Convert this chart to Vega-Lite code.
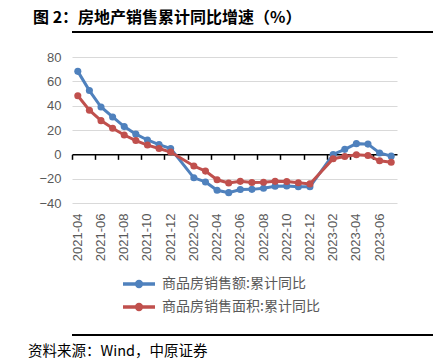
{
  "$schema": "https://vega.github.io/schema/vega-lite/v6.json",
  "padding": {"left": 20, "top": 10, "right": 10, "bottom": 0},
  "background": "white",
  "config": {"view": {"stroke": null}, "font": "Noto Sans CJK SC"},
  "spacing": 18,
  "vconcat": [
    {
      "width": 403,
      "height": 2,
      "view": {"fill": "#000000", "stroke": null},
      "title": {"text": "图 2：房地产销售累计同比增速（%）", "anchor": "start", "fontSize": 16, "fontWeight": "bold", "font": "Noto Sans CJK SC", "color": "#000000", "dx": -39, "offset": 5},
      "data": {"values": []},
      "mark": "point"
    },
    {
      "width": 325,
      "height": 146,
      "data": {"values": [
        {"month": "2021-04", "series": "商品房销售额:累计同比", "value": 68.2},
        {"month": "2021-05", "series": "商品房销售额:累计同比", "value": 52.4},
        {"month": "2021-06", "series": "商品房销售额:累计同比", "value": 38.9},
        {"month": "2021-07", "series": "商品房销售额:累计同比", "value": 30.7},
        {"month": "2021-08", "series": "商品房销售额:累计同比", "value": 22.8},
        {"month": "2021-09", "series": "商品房销售额:累计同比", "value": 16.6},
        {"month": "2021-10", "series": "商品房销售额:累计同比", "value": 11.8},
        {"month": "2021-11", "series": "商品房销售额:累计同比", "value": 8.0},
        {"month": "2021-12", "series": "商品房销售额:累计同比", "value": 4.8},
        {"month": "2022-02", "series": "商品房销售额:累计同比", "value": -19.3},
        {"month": "2022-03", "series": "商品房销售额:累计同比", "value": -22.7},
        {"month": "2022-04", "series": "商品房销售额:累计同比", "value": -29.5},
        {"month": "2022-05", "series": "商品房销售额:累计同比", "value": -31.5},
        {"month": "2022-06", "series": "商品房销售额:累计同比", "value": -28.9},
        {"month": "2022-07", "series": "商品房销售额:累计同比", "value": -28.8},
        {"month": "2022-08", "series": "商品房销售额:累计同比", "value": -27.9},
        {"month": "2022-09", "series": "商品房销售额:累计同比", "value": -26.3},
        {"month": "2022-10", "series": "商品房销售额:累计同比", "value": -26.1},
        {"month": "2022-11", "series": "商品房销售额:累计同比", "value": -26.6},
        {"month": "2022-12", "series": "商品房销售额:累计同比", "value": -26.7},
        {"month": "2023-02", "series": "商品房销售额:累计同比", "value": -0.1},
        {"month": "2023-03", "series": "商品房销售额:累计同比", "value": 4.1},
        {"month": "2023-04", "series": "商品房销售额:累计同比", "value": 8.8},
        {"month": "2023-05", "series": "商品房销售额:累计同比", "value": 8.4},
        {"month": "2023-06", "series": "商品房销售额:累计同比", "value": 1.1},
        {"month": "2023-07", "series": "商品房销售额:累计同比", "value": -1.5},
        {"month": "2021-04", "series": "商品房销售面积:累计同比", "value": 48.1},
        {"month": "2021-05", "series": "商品房销售面积:累计同比", "value": 36.3},
        {"month": "2021-06", "series": "商品房销售面积:累计同比", "value": 27.7},
        {"month": "2021-07", "series": "商品房销售面积:累计同比", "value": 21.5},
        {"month": "2021-08", "series": "商品房销售面积:累计同比", "value": 15.9},
        {"month": "2021-09", "series": "商品房销售面积:累计同比", "value": 11.3},
        {"month": "2021-10", "series": "商品房销售面积:累计同比", "value": 7.6},
        {"month": "2021-11", "series": "商品房销售面积:累计同比", "value": 4.8},
        {"month": "2021-12", "series": "商品房销售面积:累计同比", "value": 1.9},
        {"month": "2022-02", "series": "商品房销售面积:累计同比", "value": -9.6},
        {"month": "2022-03", "series": "商品房销售面积:累计同比", "value": -13.8},
        {"month": "2022-04", "series": "商品房销售面积:累计同比", "value": -20.9},
        {"month": "2022-05", "series": "商品房销售面积:累计同比", "value": -23.6},
        {"month": "2022-06", "series": "商品房销售面积:累计同比", "value": -22.2},
        {"month": "2022-07", "series": "商品房销售面积:累计同比", "value": -23.1},
        {"month": "2022-08", "series": "商品房销售面积:累计同比", "value": -23.0},
        {"month": "2022-09", "series": "商品房销售面积:累计同比", "value": -22.2},
        {"month": "2022-10", "series": "商品房销售面积:累计同比", "value": -22.3},
        {"month": "2022-11", "series": "商品房销售面积:累计同比", "value": -23.3},
        {"month": "2022-12", "series": "商品房销售面积:累计同比", "value": -24.3},
        {"month": "2023-02", "series": "商品房销售面积:累计同比", "value": -3.6},
        {"month": "2023-03", "series": "商品房销售面积:累计同比", "value": -1.8},
        {"month": "2023-04", "series": "商品房销售面积:累计同比", "value": -0.4},
        {"month": "2023-05", "series": "商品房销售面积:累计同比", "value": -0.9},
        {"month": "2023-06", "series": "商品房销售面积:累计同比", "value": -5.3},
        {"month": "2023-07", "series": "商品房销售面积:累计同比", "value": -6.5}
      ]},
      "encoding": {
        "y": {
          "field": "value", "type": "quantitative",
          "scale": {"domain": [-40, 80], "nice": false, "zero": false},
          "axis": {
            "values": [-40, -20, 0, 20, 40, 60, 80],
            "domain": false, "ticks": false, "title": null,
            "labelColor": "#595959", "labelFontSize": 13, "labelFont": "Liberation Sans",
            "labelPadding": 11, "minExtent": 52,
            "gridColor": "#d9d9d9", "gridWidth": 1,
            "gridOpacity": {"condition": {"test": "datum.value === 0", "value": 0}, "value": 1}
          }
        }
      },
      "layer": [
        {
          "mark": {"type": "line", "strokeWidth": 3, "point": {"filled": true, "size": 50, "opacity": 1}},
          "encoding": {
            "x": {
              "field": "month", "type": "ordinal", "bandPosition": 0.5,
              "scale": {"type": "band", "paddingInner": 0, "paddingOuter": 0, "domain": ["2021-04","2021-05","2021-06","2021-07","2021-08","2021-09","2021-10","2021-11","2021-12","2022-01","2022-02","2022-03","2022-04","2022-05","2022-06","2022-07","2022-08","2022-09","2022-10","2022-11","2022-12","2023-01","2023-02","2023-03","2023-04","2023-05","2023-06","2023-07"]},
              "axis": {
                "orient": "bottom", "offset": -48.667, "title": null,
                "values": ["2021-04","2021-06","2021-08","2021-10","2021-12","2022-02","2022-04","2022-06","2022-08","2022-10","2022-12","2023-02","2023-04","2023-06"],
                "labels": false, "grid": false, "bandPosition": 0,
                "ticks": true, "tickColor": "#000000", "tickSize": 5, "tickWidth": 1.5,
                "domainColor": "#000000", "domainWidth": 1.5
              }
            },
            "color": {
              "field": "series", "type": "nominal",
              "scale": {"domain": ["商品房销售额:累计同比", "商品房销售面积:累计同比"], "range": ["#4F81BD", "#C0504D"]},
              "legend": {
                "orient": "none", "legendX": 57, "legendY": 243, "direction": "vertical", "title": null,
                "symbolType": "M-2,0H2M0.3,0A0.3,0.3,0,1,1,-0.3,0A0.3,0.3,0,1,1,0.3,0",
                "symbolSize": 256, "symbolStrokeWidth": 3.5, "symbolOpacity": 1,
                "labelFont": "Noto Sans CJK SC", "labelFontSize": 14, "labelColor": "#595959",
                "labelOffset": 13, "rowPadding": 3, "padding": 0
              }
            }
          }
        },
        {
          "mark": {"type": "point", "opacity": 0},
          "encoding": {
            "x": {
              "field": "month", "type": "ordinal", "bandPosition": 0.5,
              "scale": {"type": "band", "paddingInner": 0, "paddingOuter": 0, "domain": ["2021-04","2021-05","2021-06","2021-07","2021-08","2021-09","2021-10","2021-11","2021-12","2022-01","2022-02","2022-03","2022-04","2022-05","2022-06","2022-07","2022-08","2022-09","2022-10","2022-11","2022-12","2023-01","2023-02","2023-03","2023-04","2023-05","2023-06","2023-07"]},
              "axis": {
                "orient": "bottom", "title": null,
                "values": ["2021-04","2021-06","2021-08","2021-10","2021-12","2022-02","2022-04","2022-06","2022-08","2022-10","2022-12","2023-02","2023-04","2023-06"],
                "labelAngle": -90, "ticks": false, "domain": false, "grid": false, "minExtent": 113,
                "labelColor": "#595959", "labelFontSize": 13, "labelFont": "Liberation Sans", "labelPadding": 10
              }
            }
          }
        }
      ],
      "resolve": {"axis": {"x": "independent"}}
    },
    {
      "width": 403,
      "height": 2,
      "view": {"fill": "#000000", "stroke": null},
      "title": {"text": "资料来源：Wind，中原证券", "orient": "bottom", "anchor": "start", "fontSize": 14.5, "fontWeight": "normal", "font": "Noto Sans CJK SC", "color": "#000000", "dx": -44, "offset": 9},
      "data": {"values": []},
      "mark": "point"
    }
  ]
}
